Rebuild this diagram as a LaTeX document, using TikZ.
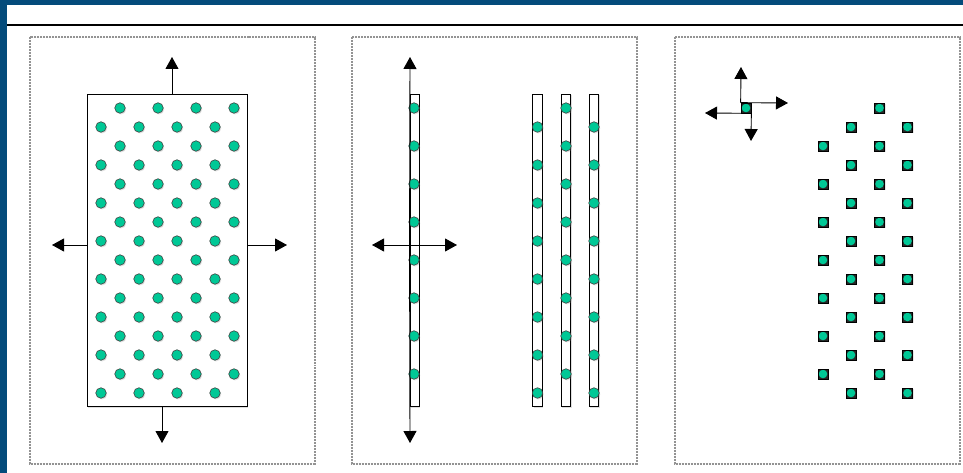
\documentclass[tikz,border=0pt]{standalone}
\usetikzlibrary{arrows.meta,shadows}
\definecolor{atomgreen}{RGB}{0,200,150}
\definecolor{barblue}{RGB}{4,75,123}
\tikzset{
  atom/.style={circle,draw=black!75,fill=atomgreen,inner sep=0pt,minimum size=10.5pt,line width=0.6pt,
    drop shadow={shadow xshift=1pt,shadow yshift=-1.2pt,opacity=0.25}},
  cell/.style={rectangle,draw=black,fill=black!85,inner sep=0pt,minimum size=10pt,line width=0.7pt,
    path picture={\fill[atomgreen] (path picture bounding box.center) circle (4.3pt);},
    drop shadow={shadow xshift=1pt,shadow yshift=-1.2pt,opacity=0.2}},
  slab/.style={draw,fill=white,inner sep=0pt,line width=0.9pt,
    drop shadow={shadow xshift=1pt,shadow yshift=-1.5pt,opacity=0.25}},
  frame/.style={draw=gray!85,line width=1.3pt,dash pattern=on 1pt off 0.5pt},
  push/.style={-{Triangle[width=13pt,length=12pt]},line width=0.9pt}
}
\begin{document}
\begin{tikzpicture}[x=1pt,y=-1pt]
\useasboundingbox (0,0) rectangle (963,473);
%% header
\fill[barblue] (0,0) rectangle (963,5);
\fill[barblue] (0,0) rectangle (7,473);
\draw[line width=2pt] (7,25) -- (963,25);
\draw[frame] (30,37) rectangle (315,464);
\draw[frame] (352,37) rectangle (637,464);
\draw[frame] (675,37) rectangle (960,464);

%% panel 1: bulk crystal
\node[slab,minimum width=160pt,minimum height=312pt] (bulk) at (167,250) {};
\foreach \r in {0,...,15}{
  \pgfmathsetmacro\ypos{108+19*\r}
  \pgfmathsetmacro\xoff{120-19*mod(\r,2)}
  \foreach \c in {0,...,3}
    \node[atom] (bulk-\r-\c) at (\xoff+38*\c,\ypos) {};
}
\coordinate (up1) at (172,57);
\coordinate (down1) at (162,443);
\coordinate (left1) at (52,245);
\coordinate (right1) at (287,245);
\draw[push] (bulk.north -| up1) -- (up1);
\draw[push] (bulk.south -| down1) -- (down1);
\draw[push] (bulk.west |- left1) -- (left1);
\draw[push] (bulk.east |- right1) -- (right1);

%% panel 2: single chain and stacked chains
\node[slab,minimum width=9pt,minimum height=312pt] (chain) at (414.5,250) {};
\foreach \k in {0,...,7}
  \node[atom] (chain-\k) at (414,108+38*\k) {};
\coordinate (up2) at (410,57);
\coordinate (down2) at (410,443);
\coordinate (left2) at (372,245);
\coordinate (right2) at (457,245);
\draw[push] (chain.west) -- (up2);
\draw[push] (chain.west) -- (down2);
\draw[push] (chain.west |- left2) -- (left2);
\draw[push] (chain.west |- right2) -- (right2);
\foreach \s/\xs/\ys in {1/537.5/127,2/566/108,3/594/127}{
  \node[slab,minimum width=9.5pt,minimum height=312pt] (stack-\s) at (\xs,250) {};
  \foreach \k in {0,...,7}
    \node[atom] (stack-\s-\k) at (\xs,\ys+38*\k) {};
}

%% panel 3: lattice with one free atom
\foreach \r in {0,...,15}{
  \pgfmathsetmacro\ypos{108+19*\r}
  \pgfmathsetmacro\xoff{823+28*mod(\r,2)}
  \foreach \c in {0,1}{
    \ifnum\numexpr\r+\c\relax=0 \else
      \node[cell] (cell-\r-\c) at (\xoff+56.5*\c,\ypos) {};
    \fi
  }
}
\node[cell] (free) at (746,108) {};
\coordinate (up3) at (741,67);
\coordinate (right3) at (788,103);
\coordinate (left3) at (705,113);
\coordinate (down3) at (751,141);
\draw[push] (free.north west) -- (up3);
\draw[push] (free.north west) -- (right3);
\draw[push] (free.south east) -- (left3);
\draw[push] (free.south east) -- (down3);
\end{tikzpicture}
\end{document}
